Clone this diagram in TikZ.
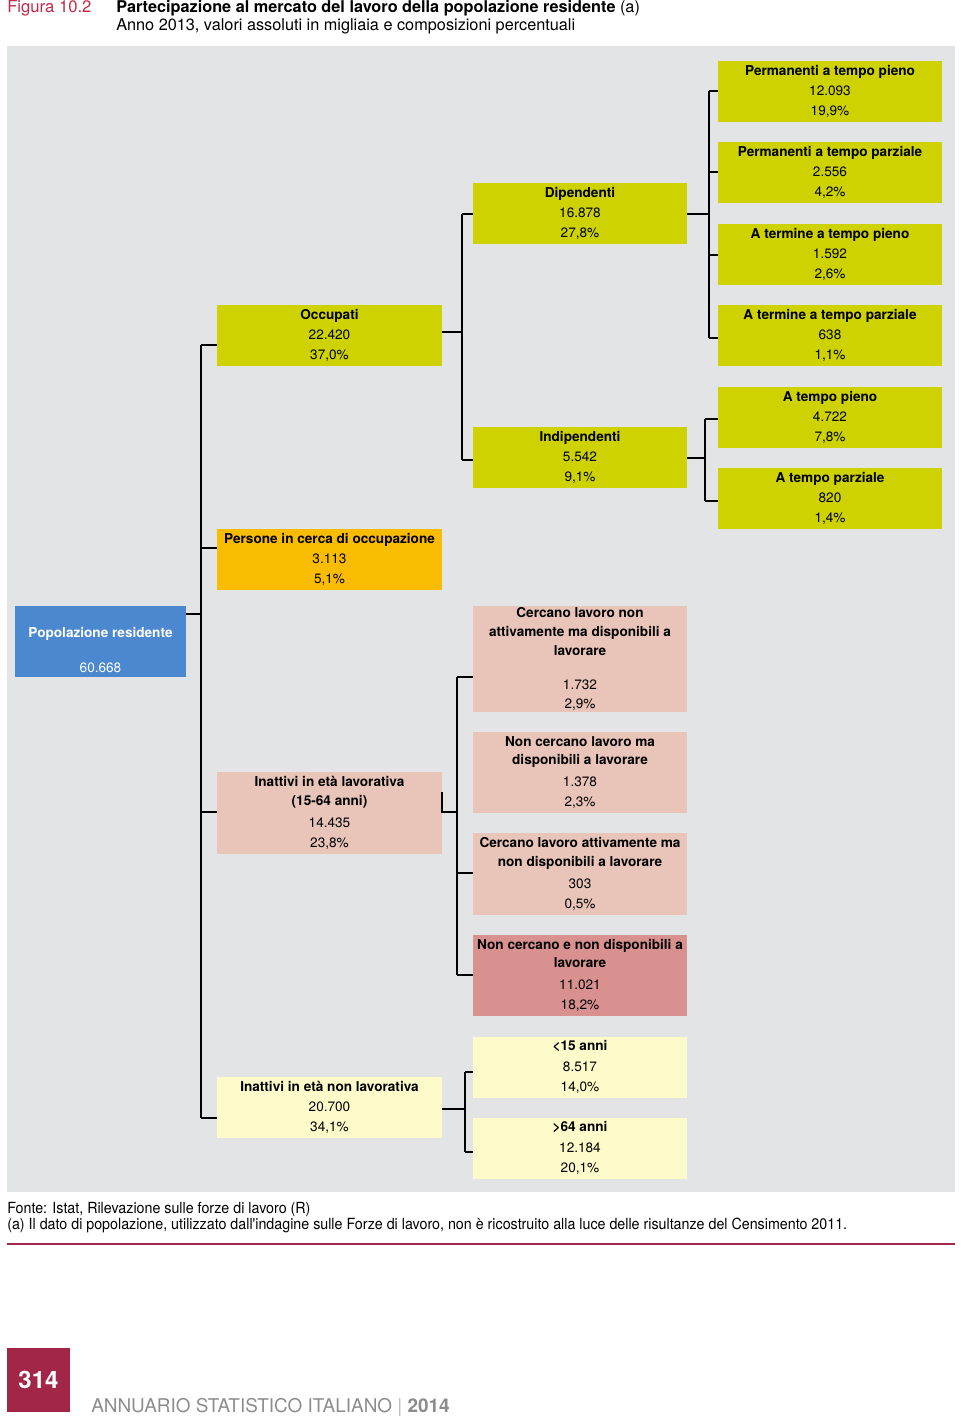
\documentclass[tikz,border=0pt]{standalone}
\usepackage{fontspec}
\setmainfont{TeX Gyre Heros}
\newfontfamily\condfont[FakeStretch=0.93]{TeX Gyre Heros}
\usetikzlibrary{positioning}

\begin{document}
\begin{tikzpicture}[x=0.75pt,y=-0.75pt]
      % Define colors
      \definecolor{panelgray}{RGB}{227,228,230}
      \definecolor{occolive}{RGB}{205,210,0}
      \definecolor{searchorange}{RGB}{250,188,0}
      \definecolor{popblue}{RGB}{76,136,208}
      \definecolor{inactpink}{RGB}{232,196,185}
      \definecolor{inactrose}{RGB}{216,145,143}
      \definecolor{agecream}{RGB}{253,251,202}
      \definecolor{istatred}{RGB}{162,38,72}
      \definecolor{figred}{RGB}{196,40,70}
      \definecolor{footgray}{RGB}{140,140,140}

      % Define styles
      \tikzset{
        cell/.style={fill=#1, inner sep=0pt, align=center, minimum height=45.75pt,
                     font=\fontsize{10.2}{13.9}\selectfont},
        colB/.style={minimum width=168.75pt},
        colC/.style={minimum width=160.5pt},
        colD/.style={minimum width=168pt},
        link/.style={line width=1.4pt, black}
      }
      \def\celltext#1#2#3{\textbf{#1}\\[1.2pt]#2\\[1.2pt]#3}

      \useasboundingbox (0,0) rectangle (960,1416);

      % Header
      \node[anchor=west, inner sep=0pt, text=figred, font=\fontsize{12.5}{14}\selectfont] (fig) at (7,8.5) {Figura 10.2};
      \node[anchor=west, inner sep=0pt, font=\fontsize{12.2}{14}\selectfont] (title) at (116,8.5)
        {\textbf{Partecipazione al mercato del lavoro della popolazione residente} (a)};
      \node[anchor=west, inner sep=0pt, font=\fontsize{12.2}{14}\selectfont] (subtitle) at (116,26)
        {Anno 2013, valori assoluti in migliaia e composizioni percentuali};

      % Panel
      \fill[panelgray] (7,46) rectangle (955,1192);

      % Popolazione residente
      \node[fill=popblue, minimum width=128.25pt, minimum height=53.25pt] (pop) at (100.5,641.5) {};
      \node[text=white, align=center, font=\fontsize{10.2}{13.9}\selectfont] (poptext) at (100.5,650)
        {\textbf{Popolazione residente}\\[12.5pt]60.668};

      % Second level
      \node[cell=occolive, colB] (occ) at (329.5,335.5) {\celltext{Occupati}{22.420}{37,0\%}};
      \node[cell=searchorange, colB] (cerca) at (329.5,559.5) {\celltext{Persone in cerca di occupazione}{3.113}{5,1\%}};
      \node[cell=inactpink, colB, minimum height=61.5pt] (inl) at (329.5,813)
        {\textbf{Inattivi in età lavorativa}\\\textbf{(15-64 anni)}\\[2.5pt]14.435\\[1.2pt]23,8\%};
      \node[cell=agecream, colB] (ninl) at (329.5,1107.5) {\celltext{Inattivi in età non lavorativa}{20.700}{34,1\%}};

      % Third level
      \node[cell=occolive, colC] (dip) at (580,213.5) {\celltext{Dipendenti}{16.878}{27,8\%}};
      \node[cell=occolive, colC] (ind) at (580,457.5) {\celltext{Indipendenti}{5.542}{9,1\%}};
      \node[cell=inactpink, colC, minimum height=79.5pt] (cna) at (580,659)
        {\textbf{Cercano lavoro non}\\\textbf{attivamente ma disponibili a}\\\textbf{lavorare}\\[12pt]1.732\\2,9\%};
      \node[cell=inactpink, colC, minimum height=61pt] (ncm) at (580,772.5)
        {\textbf{Non cercano lavoro ma}\\\textbf{disponibili a lavorare}\\[2.5pt]1.378\\[1.2pt]2,3\%};
      \node[cell=inactpink, colC, minimum height=61pt] (cat) at (580,874)
        {\textbf{Cercano lavoro attivamente ma}\\\textbf{non disponibili a lavorare}\\[2.5pt]303\\[1.2pt]0,5\%};
      \node[cell=inactrose, colC, minimum height=61pt] (ncn) at (580,975.5)
        {\textbf{Non cercano e non disponibili a}\\\textbf{lavorare}\\[2.5pt]11.021\\[1.2pt]18,2\%};
      \node[cell=agecream, colC] (u15) at (580,1067) {\celltext{<15 anni}{8.517}{14,0\%}};
      \node[cell=agecream, colC] (o64) at (580,1148) {\celltext{>64 anni}{12.184}{20,1\%}};

      % Fourth level
      \node[cell=occolive, colD] (pp) at (830,91.5) {\celltext{Permanenti a tempo pieno}{12.093}{19,9\%}};
      \node[cell=occolive, colD] (ppz) at (830,172.5) {\celltext{Permanenti a tempo parziale}{2.556}{4,2\%}};
      \node[cell=occolive, colD] (tp) at (830,254.5) {\celltext{A termine a tempo pieno}{1.592}{2,6\%}};
      \node[cell=occolive, colD] (tpz) at (830,335.5) {\celltext{A termine a tempo parziale}{638}{1,1\%}};
      \node[cell=occolive, colD] (ip) at (830,417.5) {\celltext{A tempo pieno}{4.722}{7,8\%}};
      \node[cell=occolive, colD] (ipz) at (830,498.5) {\celltext{A tempo parziale}{820}{1,4\%}};

      % Junctions
      \coordinate (jPop) at (201,614);
      \coordinate (jOcc) at (201,345);
      \coordinate (jCerca) at (201,548);
      \coordinate (jInl) at (201,812);
      \coordinate (jNinl) at (201,1118);

      \coordinate (jOccOut) at (462,332);
      \coordinate (jDip) at (462,214);
      \coordinate (jInd) at (462,460);

      \coordinate (jDipOut) at (709,214);
      \coordinate (jPp) at (709,91);
      \coordinate (jPpz) at (709,172);
      \coordinate (jTp) at (709,255);
      \coordinate (jTpz) at (709,338);

      \coordinate (jIndOut) at (705,458);
      \coordinate (jIp) at (705,419);
      \coordinate (jIpz) at (705,501);

      \coordinate (tInl) at (442,792);
      \coordinate (jInlOut) at (457,812);
      \coordinate (jCna) at (457,677);
      \coordinate (jCat) at (457,873);
      \coordinate (jNcn) at (457,975);

      \coordinate (jNinlOut) at (465,1109);
      \coordinate (jU15) at (465,1072);
      \coordinate (jO64) at (465,1152);

      % Connecting lines
      \draw[link] (pop.east |- jPop) -- (jPop);
      \draw[link] (jOcc) -- (jNinl);
      \draw[link] (jOcc) -- (jOcc -| occ.west);
      \draw[link] (jCerca) -- (jCerca -| cerca.west);
      \draw[link] (jInl) -- (jInl -| inl.west);
      \draw[link] (jNinl) -- (jNinl -| ninl.west);

      \draw[link] (occ.east |- jOccOut) -- (jOccOut);
      \draw[link] (jDip) -- (jInd);
      \draw[link] (jDip) -- (jDip -| dip.west);
      \draw[link] (jInd) -- (jInd -| ind.west);

      \draw[link] (dip.east |- jDipOut) -- (jDipOut);
      \draw[link] (jPp) -- (jTpz);
      \draw[link] (jPp) -- (jPp -| pp.west);
      \draw[link] (jPpz) -- (jPpz -| ppz.west);
      \draw[link] (jTp) -- (jTp -| tp.west);
      \draw[link] (jTpz) -- (jTpz -| tpz.west);

      \draw[link] (ind.east |- jIndOut) -- (jIndOut);
      \draw[link] (jIp) -- (jIpz);
      \draw[link] (jIp) -- (jIp -| ip.west);
      \draw[link] (jIpz) -- (jIpz -| ipz.west);

      \draw[link] (tInl) |- (jInlOut);
      \draw[link] (jCna) -- (jNcn);
      \draw[link] (jCna) -- (jCna -| cna.west);
      \draw[link] (jCat) -- (jCat -| cat.west);
      \draw[link] (jNcn) -- (jNcn -| ncn.west);

      \draw[link] (ninl.east |- jNinlOut) -- (jNinlOut);
      \draw[link] (jU15) -- (jO64);
      \draw[link] (jU15) -- (jU15 -| u15.west);
      \draw[link] (jO64) -- (jO64 -| o64.west);

      % Notes
      \node[anchor=west, inner sep=0pt, font=\condfont\fontsize{11.5}{13}\selectfont] (source) at (7,1209)
        {Fonte: Istat, Rilevazione sulle forze di lavoro (R)};
      \node[anchor=west, inner sep=0pt, font=\condfont\fontsize{11.5}{13}\selectfont] (note) at (7,1225)
        {(a) Il dato di popolazione, utilizzato dall'indagine sulle Forze di lavoro, non è ricostruito alla luce delle risultanze del Censimento 2011.};
      \draw[istatred, line width=1.2pt] (7,1244) -- (955,1244);

      % Page footer
      \node[fill=istatred, minimum width=47.25pt, minimum height=48pt, inner sep=0pt] (pagebox) at (38.5,1380) {};
      \node[text=white, font=\bfseries\fontsize{18}{20}\selectfont] (pagenum) at (pagebox.center) {314};
      \node[anchor=base west, inner sep=0pt, text=footgray, font=\fontsize{14.2}{16}\selectfont] (book) at (91,1412)
        {ANNUARIO STATISTICO ITALIANO {\color{footgray!60}|} \textbf{2014}};

    \end{tikzpicture}
\end{document}
